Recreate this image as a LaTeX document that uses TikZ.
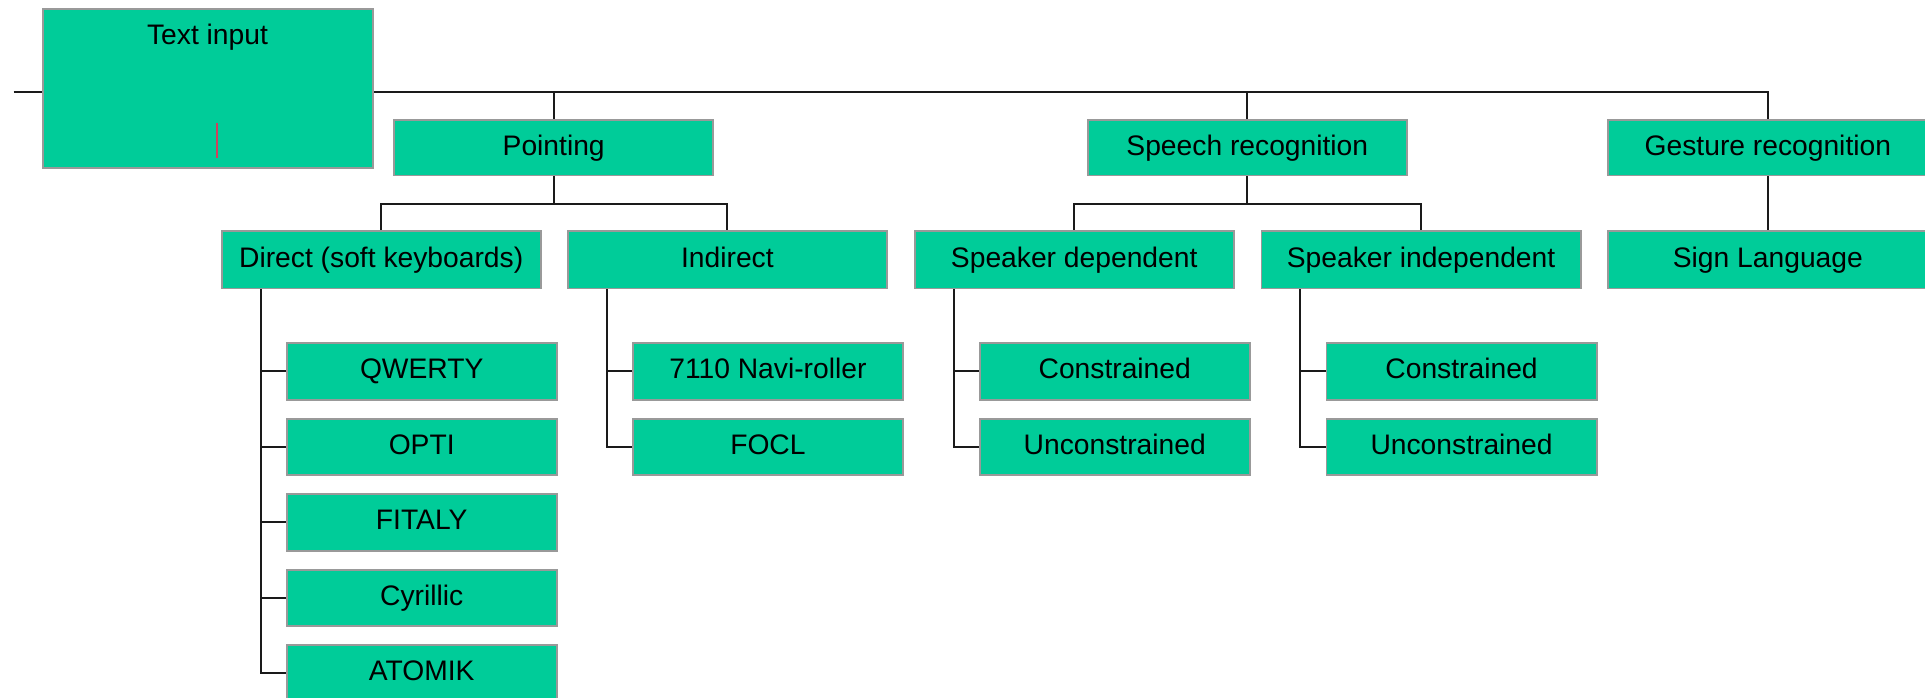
\documentclass[tikz,border=0pt]{standalone}
\usepackage{fontspec}
\setmainfont{Liberation Sans}
\definecolor{boxfill}{HTML}{00CC99}
\definecolor{boxline}{HTML}{999999}
\definecolor{cursorred}{HTML}{D0405E}
\definecolor{linecol}{HTML}{1A1A1A}
\begin{document}
\begin{tikzpicture}[x=1pt,y=-1pt,
  box/.style={draw=boxline, line width=1.5pt, fill=boxfill, minimum width=260pt,
    minimum height=46pt, inner sep=0pt, text height=17pt, text depth=5pt,
    font=\fontsize{23}{27}\selectfont},
  leaf/.style={box, minimum width=220pt},
  conn/.style={draw=linecol, line width=1.6pt}]
\useasboundingbox (0,0) rectangle (1568,568);

% root
\node[box, minimum width=269pt, minimum height=130pt, text height=0pt, text depth=0pt] (ti) at (169.5,72) {};
\node[font=\fontsize{23}{27}\selectfont, inner sep=0pt, text height=17pt, text depth=5pt] (tilabel) at (169,30) {Text input};
\coordinate (curA) at (176.5,100);
\coordinate (curB) at (176.5,129);
\draw[cursorred, line width=1.4pt] (curA) -- (curB);

% level 1
\node[box, minimum height=45pt] (pt) at (451,120.5) {Pointing};
\node[box, minimum height=45pt] (sr) at (1016,120.5) {Speech recognition};
\node[box, minimum height=45pt] (gr) at (1440,120.5) {Gesture recognition};

% level 2
\node[box, minimum height=47pt] (dir) at (310.5,211.5) {Direct (soft keyboards)};
\node[box, minimum height=47pt] (ind) at (592.5,211.5) {Indirect};
\node[box, minimum height=47pt] (sd) at (875,211.5) {Speaker dependent};
\node[box, minimum height=47pt] (si) at (1157.5,211.5) {Speaker independent};
\node[box, minimum height=47pt] (sl) at (1440,211.5) {Sign Language};

% level 3
\node[leaf] (qw) at (343.5,302.5) {QWERTY};
\node[leaf] (op) at (343.5,364) {OPTI};
\node[leaf] (fi) at (343.5,425.5) {FITALY};
\node[leaf] (cy) at (343.5,487) {Cyrillic};
\node[leaf] (at) at (343.5,548.5) {ATOMIK};
\node[leaf] (nv) at (625.5,302.5) {7110 Navi-roller};
\node[leaf] (fo) at (625.5,364) {FOCL};
\node[leaf] (sdc) at (908,302.5) {Constrained};
\node[leaf] (sdu) at (908,364) {Unconstrained};
\node[leaf] (sic) at (1190.5,302.5) {Constrained};
\node[leaf] (siu) at (1190.5,364) {Unconstrained};

% connectors, level 0-1
\coordinate (bus) at (0,75);
\coordinate (stub) at (11,75);
\draw[conn] (stub) -- (ti.west |- bus);
\draw[conn] (ti.east |- bus) -- (gr.north |- bus) -- (gr.north);
\draw[conn] (pt.north |- bus) -- (pt.north);
\draw[conn] (sr.north |- bus) -- (sr.north);

% level 1-2
\coordinate (bus2) at (0,166);
\draw[conn] (pt.south) -- (pt.south |- bus2);
\draw[conn] (dir.north) |- (ind.north |- bus2) -- (ind.north);
\draw[conn] (sr.south) -- (sr.south |- bus2);
\draw[conn] (sd.north) |- (si.north |- bus2) -- (si.north);
\draw[conn] (gr.south) -- (sl.north);

% level 2-3
\coordinate (dsp) at ([xshift=32.5pt]dir.south west);
\draw[conn] (dsp) |- (at.west);
\foreach \n in {qw,op,fi,cy} \draw[conn] (\n.west) -- (\n.west -| dsp);
\coordinate (isp) at ([xshift=32.5pt]ind.south west);
\draw[conn] (isp) |- (fo.west);
\draw[conn] (nv.west) -- (nv.west -| isp);
\coordinate (sdsp) at ([xshift=32.5pt]sd.south west);
\draw[conn] (sdsp) |- (sdu.west);
\draw[conn] (sdc.west) -- (sdc.west -| sdsp);
\coordinate (sisp) at ([xshift=32.5pt]si.south west);
\draw[conn] (sisp) |- (siu.west);
\draw[conn] (sic.west) -- (sic.west -| sisp);
\end{tikzpicture}
\end{document}
